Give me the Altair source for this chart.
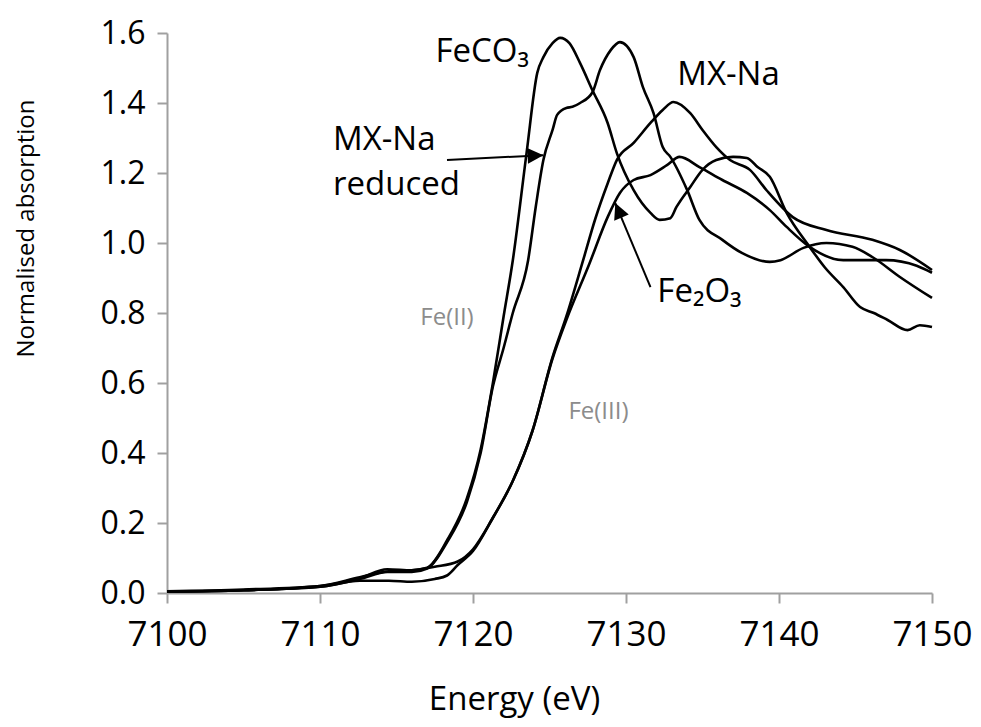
import altair as alt
import pandas as pd

# ---- data ----
feco3_x = [7100, 7105, 7110, 7112.6, 7114.4, 7116, 7117, 7118.3, 7119.6, 7120.5, 7121.3, 7122.0,
           7122.6, 7123.5, 7124.2, 7124.6, 7125.2, 7125.7, 7126.3, 7127.0, 7127.8, 7128.8, 7129.4,
           7130.5, 7131.6, 7132.2, 7132.9, 7133.3, 7134.2, 7135.0, 7135.9, 7137.0, 7137.9, 7138.6,
           7139.4, 7140.5, 7142.0, 7143.0, 7144.2, 7145.3, 7146.2, 7147.1, 7148.4, 7149.2, 7150]
feco3_y = [0.005, 0.01, 0.02, 0.043, 0.068, 0.065, 0.072, 0.15, 0.27, 0.41, 0.60, 0.79,
           0.95, 1.257, 1.486, 1.531, 1.571, 1.586, 1.571, 1.514, 1.437, 1.343, 1.257,
           1.151, 1.086, 1.066, 1.071, 1.103, 1.16, 1.209, 1.237, 1.246, 1.243, 1.217,
           1.189, 1.086, 0.989, 0.93, 0.874, 0.817, 0.80, 0.78, 0.751, 0.765, 0.76]

mxred_x = [7100, 7105, 7110, 7112.6, 7114.4, 7116, 7117, 7118.3, 7119.6, 7120.5, 7121.3, 7122.0,
           7122.6, 7123.6, 7124.1, 7124.6, 7125.2, 7125.5, 7126.1, 7126.5, 7127.0, 7127.8, 7128.3,
           7129.0, 7129.6, 7130.5, 7131.1, 7131.8, 7132.4, 7132.9, 7134.0, 7134.8, 7136.3, 7137.6,
           7139.4, 7140.1, 7141.6, 7143.1, 7144.8, 7146.1, 7147.9, 7150]
mxred_y = [0.004, 0.008, 0.018, 0.04, 0.06, 0.06, 0.07, 0.145, 0.26, 0.40, 0.59, 0.70,
           0.80, 0.95, 1.103, 1.237, 1.323, 1.366, 1.386, 1.389, 1.40, 1.43, 1.494,
           1.551, 1.574, 1.531, 1.446, 1.371, 1.274, 1.246, 1.151, 1.066, 1.009, 0.971,
           0.946, 0.951, 0.986, 1.0, 0.989, 0.96, 0.903, 0.843]

mxna_x = [7100, 7105, 7110, 7112.6, 7114.5, 7116, 7117.5, 7119, 7120, 7121.3, 7122.6, 7123.9,
          7125.2, 7126.1, 7127.2, 7128.0, 7128.8, 7129.4, 7130.5, 7131.6, 7132.4, 7133.1, 7134.2,
          7135.0, 7135.9, 7136.8, 7138.1, 7139.2, 7140.9, 7143.1, 7146.1, 7147.9, 7150]
mxna_y = [0.004, 0.008, 0.02, 0.045, 0.062, 0.065, 0.075, 0.09, 0.125, 0.215, 0.32, 0.465,
          0.674, 0.79, 0.951, 1.07, 1.17, 1.237, 1.286, 1.343, 1.38, 1.403, 1.371,
          1.323, 1.274, 1.237, 1.209, 1.15, 1.074, 1.037, 1.009, 0.98, 0.923]

fe2o3_x = [7100, 7105, 7110, 7112.6, 7114.5, 7116, 7117.5, 7118.3, 7119, 7120, 7121.3, 7122.6,
           7123.9, 7125.2, 7126.1, 7127.6, 7128.8, 7129.6, 7130.5, 7131.6, 7132.7, 7133.5, 7134.8,
           7136.3, 7137.9, 7139.4, 7140.5, 7142.0, 7144.2, 7147, 7149, 7150]
fe2o3_y = [0.004, 0.008, 0.018, 0.035, 0.035, 0.032, 0.04, 0.05, 0.08, 0.12, 0.215, 0.32,
           0.465, 0.67, 0.78, 0.94, 1.074, 1.143, 1.18, 1.194, 1.223, 1.246, 1.217,
           1.18, 1.143, 1.094, 1.046, 0.989, 0.951, 0.951, 0.935, 0.915]

# annotations
label_text = ["FeCO\u2083", "MX-Na", "MX-Na", "reduced", "Fe\u2082O\u2083"]
label_x = [7120.6, 7136.7, 7110.85, 7110.85, 7134.8]
label_y = [1.546, 1.48, 1.294, 1.166, 0.86]
label_align = ["center", "center", "left", "left", "center"]

ox_text = ["Fe(II)", "Fe(III)"]
ox_x = [7118.3, 7128.2]
ox_y = [0.786, 0.517]

arrow_x1 = [7118.3, 7131.6]
arrow_y1 = [1.237, 0.874]
arrow_x2 = [7124.6, 7129.3]
arrow_y2 = [1.251, 1.114]
arrow_angle = [87, 337]

x_ticks = [7100, 7110, 7120, 7130, 7140, 7150]
y_ticks = [0.0, 0.2, 0.4, 0.6, 0.8, 1.0, 1.2, 1.4, 1.6]

# ---- tables ----
frames = []
for name, xs, ys in [("FeCO3", feco3_x, feco3_y), ("MX-Na reduced", mxred_x, mxred_y),
                     ("MX-Na", mxna_x, mxna_y), ("Fe2O3", fe2o3_x, fe2o3_y)]:
    frames.append(pd.DataFrame({"energy": xs, "absorption": ys, "series": name,
                                "idx": range(len(xs))}))
curves = pd.DataFrame(pd.concat(frames, ignore_index=True))

labels = pd.DataFrame({"text": label_text, "x": label_x, "y": label_y, "align": label_align})
ox = pd.DataFrame({"text": ox_text, "x": ox_x, "y": ox_y})
arrows = pd.DataFrame({"x1": arrow_x1, "y1": arrow_y1, "x2": arrow_x2, "y2": arrow_y2,
                       "angle": arrow_angle})

xscale = alt.Scale(domain=[7100, 7150], nice=False, zero=False)
yscale = alt.Scale(domain=[0, 1.6], nice=False)

AX = "#a0a0a0"

lines = alt.Chart(curves).mark_line(color="black", strokeWidth=2.6, interpolate="monotone").encode(
    x=alt.X("energy:Q", scale=xscale,
            axis=alt.Axis(values=x_ticks, format="d", title="Energy (eV)",
                          labelFontSize=35, labelFont="Open Sans", labelColor="black",
                          labelPadding=14, titleFont="Open Sans", titleFontSize=33,
                          titleFontWeight="normal", titleColor="black",
                          titleX=347, titleY=116, titleAlign="center",
                          titleBaseline="alphabetic",
                          grid=False, domainColor=AX, domainWidth=2, tickColor=AX,
                          tickWidth=2, tickSize=10, labelOverlap=False, labelFlush=False)),
    y=alt.Y("absorption:Q", scale=yscale,
            axis=alt.Axis(values=y_ticks, format=".1f", title="Normalised absorption",
                          labelFontSize=32, labelFont="Open Sans", labelColor="black",
                          labelPadding=12, titleFont="Open Sans", titleFontSize=24,
                          titleFontWeight="normal", titleColor="black",
                          titleX=-134, titleY=195, titleBaseline="alphabetic",
                          grid=False, domainColor=AX, domainWidth=2, tickColor=AX,
                          tickWidth=2, tickSize=10, labelOverlap=False, labelFlush=False)),
    detail="series:N",
    order="idx:Q",
)

text_left = alt.Chart(labels[labels["align"] == "left"]).mark_text(
    font="Open Sans", fontSize=33, color="black", align="left", baseline="middle"
).encode(x=alt.X("x:Q", scale=xscale), y=alt.Y("y:Q", scale=yscale), text="text:N")

text_center = alt.Chart(labels[labels["align"] == "center"]).mark_text(
    font="Open Sans", fontSize=33, color="black", align="center", baseline="middle"
).encode(x=alt.X("x:Q", scale=xscale), y=alt.Y("y:Q", scale=yscale), text="text:N")

ox_text_m = alt.Chart(ox).mark_text(
    font="Open Sans", fontSize=24, color="#8c8c8c", align="center", baseline="middle"
).encode(x=alt.X("x:Q", scale=xscale), y=alt.Y("y:Q", scale=yscale), text="text:N")

arrow_lines = alt.Chart(arrows).mark_rule(color="black", strokeWidth=2).encode(
    x=alt.X("x1:Q", scale=xscale), y=alt.Y("y1:Q", scale=yscale),
    x2="x2:Q", y2="y2:Q")

heads = alt.Chart(arrows).mark_point(
    shape="M0,0 L-0.5,1 L0.5,1 Z", filled=True, color="black", opacity=1, size=1000,
    strokeWidth=0
).encode(x=alt.X("x2:Q", scale=xscale), y=alt.Y("y2:Q", scale=yscale),
         angle=alt.Angle("angle:Q", scale=None))

chart = alt.layer(lines, arrow_lines, heads, text_left, text_center, ox_text_m).properties(
    width=765, height=560,
    background="white",
    autosize=alt.AutoSizeParams(type="none"),
    padding={"left": 159, "top": 25, "right": 41, "bottom": 126},
).configure_view(stroke="transparent", strokeWidth=0)

chart.save("out.html", embed_options={"renderer": "svg", "actions": False})
